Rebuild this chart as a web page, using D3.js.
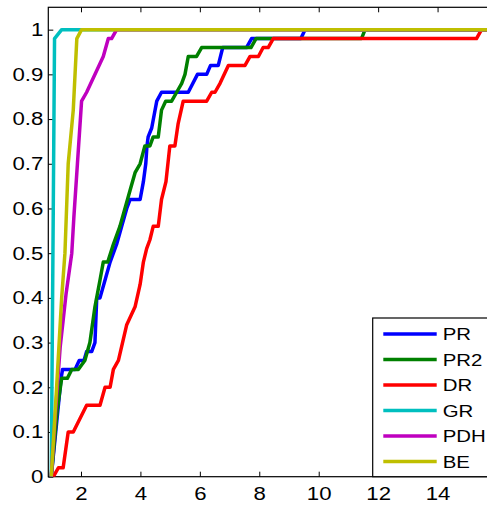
<!DOCTYPE html>
<html>
<head>
<meta charset="utf-8">
<script src="https://d3js.org/d3.v7.min.js"></script>
<style>
  body { margin: 0; background: #fff; }
  text { font-family: "Liberation Sans", Arial, sans-serif; fill: #000; }
</style>
</head>
<body>
<svg class="chart"></svg>
<script>

// performance profile data (tau, fraction of problems)
var names = ["PR", "PR2", "DR", "GR", "PDH", "BE"];
var colors = ["#0000ff", "#008000", "#ff0000", "#00bfbf", "#bf00bf", "#bfbf00"];

var prX  = [1, 1.33, 1.38, 1.80, 1.94, 2.10, 2.19, 2.36, 2.47, 2.53, 2.64, 2.81, 2.98, 3.20, 3.37, 3.54, 3.65, 3.99, 4.10, 4.18, 4.22, 4.26, 4.38, 4.55, 4.71, 5.61, 5.92, 6.23, 6.36, 6.62, 6.77, 7.57, 7.74, 9.40, 9.54, 16];
var prY  = [0, 0.22, 0.24, 0.24, 0.26, 0.26, 0.28, 0.28, 0.30, 0.40, 0.40, 0.44, 0.48, 0.52, 0.56, 0.60, 0.62, 0.62, 0.66, 0.70, 0.74, 0.76, 0.78, 0.84, 0.86, 0.86, 0.90, 0.90, 0.92, 0.92, 0.96, 0.96, 0.98, 0.98, 1, 1];

var pr2X = [1, 1.2, 1.35, 1.54, 1.69, 1.91, 2.13, 2.30, 2.47, 2.64, 2.75, 2.90, 3.09, 3.31, 3.48, 3.65, 3.82, 3.99, 4.15, 4.32, 4.43, 4.60, 4.71, 4.85, 5.05, 5.22, 5.39, 5.50, 5.61, 5.89, 6.06, 7.72, 7.89, 11.44, 11.56, 16];
var pr2Y = [0, 0.15, 0.22, 0.22, 0.24, 0.24, 0.26, 0.30, 0.38, 0.44, 0.48, 0.48, 0.52, 0.56, 0.60, 0.64, 0.68, 0.70, 0.74, 0.74, 0.76, 0.76, 0.82, 0.84, 0.84, 0.86, 0.88, 0.90, 0.94, 0.94, 0.96, 0.96, 0.98, 0.98, 1, 1];

var drX  = [1, 1.07, 1.24, 1.40, 1.57, 1.74, 2.19, 2.64, 2.81, 2.98, 3.09, 3.26, 3.54, 3.82, 3.99, 4.10, 4.21, 4.32, 4.43, 4.60, 4.71, 4.86, 4.99, 5.16, 5.27, 5.44, 6.23, 6.40, 6.51, 6.68, 6.96, 7.52, 7.69, 7.97, 8.13, 8.30, 8.47, 15.31, 15.48, 16];
var drY  = [0, 0, 0.02, 0.02, 0.10, 0.10, 0.16, 0.16, 0.20, 0.20, 0.24, 0.26, 0.34, 0.38, 0.43, 0.48, 0.51, 0.53, 0.56, 0.56, 0.62, 0.66, 0.74, 0.74, 0.79, 0.84, 0.84, 0.86, 0.86, 0.88, 0.92, 0.92, 0.94, 0.94, 0.96, 0.96, 0.98, 0.98, 1, 1];

var grX  = [1, 1.11, 1.35, 16];
var grY  = [0, 0.98, 1, 1];

var pdhX = [1, 1.1, 1.2, 1.3, 1.4, 1.5, 1.69, 1.76, 1.88, 2.02, 2.19, 2.75, 2.92, 3.03, 3.2, 16];
var pdhY = [0, 0.1, 0.2, 0.29, 0.35, 0.41, 0.50, 0.58, 0.70, 0.84, 0.86, 0.94, 0.98, 0.98, 1, 1];

var beX  = [1, 1.18, 1.35, 1.46, 1.57, 1.74, 1.86, 2.02, 16];
var beY  = [0, 0.2, 0.40, 0.50, 0.70, 0.82, 0.98, 1, 1];

var xTicks = [2, 4, 6, 8, 10, 12, 14];
var yTicks = [0, 0.1, 0.2, 0.3, 0.4, 0.5, 0.6, 0.7, 0.8, 0.9, 1];

var seriesX = [prX, pr2X, drX, grX, pdhX, beX];
var seriesY = [prY, pr2Y, drY, grY, pdhY, beY];

var W = 487, H = 505;
var box = {left: 48.3, top: 7.3, right: 497, bottom: 476.7};
var stretch = 1.2;   // the original text is drawn a bit wide

var x = d3.scaleLinear().domain([0.9, 16]).range([box.left, box.right]);
var y = d3.scaleLinear().domain([0, 1.05]).range([box.bottom, box.top]);

var chart = d3.select(".chart")
    .attr("width", W)
    .attr("height", H);

chart.append("rect")
    .attr("width", W).attr("height", H)
    .attr("fill", "#fff");

chart.append("clipPath").attr("id", "clip")
  .append("rect")
    .attr("x", box.left).attr("y", box.top)
    .attr("width", box.right - box.left).attr("height", box.bottom - box.top);

// box
chart.append("rect")
    .attr("x", box.left).attr("y", box.top)
    .attr("width", box.right - box.left).attr("height", box.bottom - box.top)
    .attr("fill", "none")
    .attr("stroke", "#000")
    .attr("stroke-width", 1.2);

// ticks, pointing inwards like matlab
chart.append("g")
    .attr("transform", "translate(0," + box.bottom + ")")
    .call(d3.axisBottom(x).tickValues(xTicks).tickSize(-5).tickPadding(10).tickFormat(d3.format("d")))
    .call(function(g) { g.select(".domain").remove(); })
    .call(function(g) {
      g.selectAll("text")
        .style("font-size", "18.5px")
        .attr("font-family", null)
        .attr("transform", "scale(" + stretch + ",1)");
    });

chart.append("g")
    .attr("transform", "translate(0," + box.top + ")")
    .call(d3.axisTop(x).tickValues(xTicks).tickSize(-5).tickFormat(""))
    .call(function(g) { g.select(".domain").remove(); });

chart.append("g")
    .attr("transform", "translate(" + box.left + ",0)")
    .call(d3.axisLeft(y).tickValues(yTicks).tickSize(-5).tickFormat(function(d) { return String(+d.toFixed(1)); }))
    .call(function(g) { g.select(".domain").remove(); })
    .call(function(g) {
      g.selectAll("text")
        .style("font-size", "18.5px")
        .attr("font-family", null)
        .attr("x", -5 / stretch)
        .attr("transform", "scale(" + stretch + ",1)");
    });

var line = d3.line()
    .x(function(d) { return x(d[0]); })
    .y(function(d) { return y(d[1]); });

var plot = chart.append("g").attr("clip-path", "url(#clip)");

names.forEach(function(n, i) {
  var pts = seriesX[i].map(function(v, j) { return [v, seriesY[i][j]]; });
  plot.append("path")
      .datum(pts)
      .attr("fill", "none")
      .attr("stroke", colors[i])
      .attr("stroke-width", 3.5)
      .attr("stroke-linejoin", "round")
      .attr("d", line);
});

// legend
var lg = chart.append("g").attr("transform", "translate(372.7,318)");
lg.append("rect")
    .attr("width", 130).attr("height", box.bottom - 318)
    .attr("fill", "#fff")
    .attr("stroke", "#000")
    .attr("stroke-width", 1.2);

names.forEach(function(n, i) {
  var ly = 16 + i * 25.5;
  lg.append("line")
      .attr("x1", 10.6).attr("x2", 64)
      .attr("y1", ly).attr("y2", ly)
      .attr("stroke", colors[i])
      .attr("stroke-width", 3.5);
  lg.append("text")
      .attr("transform", "translate(70," + ly + ") scale(" + stretch + ",1)")
      .attr("dy", "0.36em")
      .style("font-size", "17px")
      .text(n);
});

</script>
</body>
</html>
